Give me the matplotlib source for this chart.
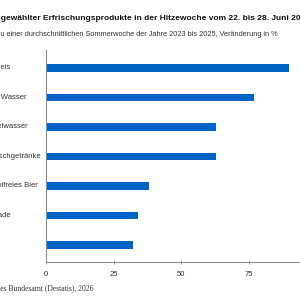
import matplotlib
matplotlib.use('Agg')
import matplotlib.pyplot as plt
import matplotlib.transforms as mtransforms

categories = ['Speiseeis', 'Stilles Wasser', 'Sprudelwasser', 'Biermischgetränke',
              'Alkoholfreies Bier', 'Limonade', 'Cola']
values = [90, 77, 63, 63, 38, 34, 32]
xticks = [0, 25, 50, 75]

title = 'Absatz ausgewählter Erfrischungsprodukte in der Hitzewoche vom 22. bis 28. Juni 2025'
subtitle = 'im Vergleich zu einer durchschnittlichen Sommerwoche der Jahre 2023 bis 2025, Veränderung in %'
source = '© Statistisches Bundesamt (Destatis), 2026'

plt.rcParams['font.family'] = 'Liberation Sans'
fig = plt.figure(figsize=(3, 3), dpi=100)
renderer = fig.canvas.get_renderer()


def text_width(s, **kw):
    t = fig.text(0, 0, s, **kw)
    w = t.get_window_extent(renderer).width
    t.remove()
    return w


ax = fig.add_axes([46 / 300, 38 / 300, 270.4 / 300, 212 / 300])
ypos = list(range(len(categories)))
ax.barh(ypos, values, height=0.25, color='#0063c6')
ax.set_xlim(0, 100)
ax.set_ylim(6.58, -0.61)

for side in ['top', 'right']:
    ax.spines[side].set_visible(False)
for side in ['left', 'bottom']:
    ax.spines[side].set_color('#8c8c8c')
    ax.spines[side].set_linewidth(0.8)
ax.set_yticks([])
ax.set_xticks(xticks)
ax.tick_params(axis='x', direction='inout', length=3, width=0.6, color='#8c8c8c',
               labelsize=5.5, labelcolor='#333333', pad=5)

# category labels, left aligned and partly cut off by the crop
lab_kw = dict(fontsize=5.5, color='#333333')
start = 26 - text_width('Stilles Wasser', **lab_kw)
trans = mtransforms.blended_transform_factory(fig.transFigure, ax.transData)
for y, name in zip(ypos, categories):
    ax.text(start / 300, y, name, transform=trans, ha='left', va='center', **lab_kw)

# title sized so the visible part spans the width like in the crop
t_kw = dict(fontweight='bold', color='#111111')
w10 = text_width('gewählter Erfrischungsprodukte in der Hitzewoche vom 22. bis 28. Juni 202',
                 fontsize=10, **t_kw)
t_kw['fontsize'] = 10 * 299 / w10
x0 = 1 - text_width('Absatz aus', **t_kw)
fig.text(x0 / 300, 1 - 18 / 300, title, va='center', ha='left', **t_kw)

s_kw = dict(color='#333333')
w10 = text_width('u einer durchschnittlichen Sommerwoche der Jahre 2023 bis 2025, Veränderung in %',
                 fontsize=10, **s_kw)
s_kw['fontsize'] = 10 * 283 / w10
x0 = 0 - text_width('im Vergleich z', **s_kw)
fig.text(x0 / 300, 1 - 34 / 300, subtitle, va='center', ha='left', **s_kw)

q_kw = dict(fontsize=5.5, color='#333333', family='Liberation Serif')
x0 = 0 - text_width('© Statistisch', **q_kw)
fig.text(x0 / 300, 1 - 287.7 / 300, source, va='center', ha='left', **q_kw)

fig.savefig('out.png', dpi=100)
